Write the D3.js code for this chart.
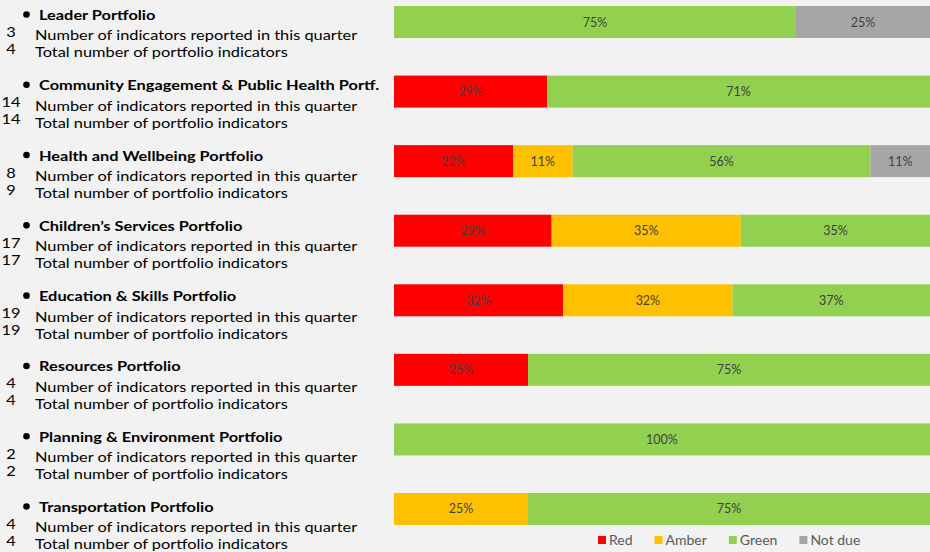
<!DOCTYPE html>
<meta charset="utf-8">
<script src="https://d3js.org/d3.v7.min.js"></script>
<style>
  body { margin: 0; background: #f2f2f2; }
  text { font-family: Lato, "Open Sans", sans-serif; }
</style>
<div id="chart"></div>
<script>

// portfolios and their indicator counts
var portfolios = ["Leader Portfolio", "Community Engagement & Public Health Portf.",
  "Health and Wellbeing Portfolio", "Children\u2019s Services Portfolio",
  "Education & Skills Portfolio", "Resources Portfolio",
  "Planning & Environment Portfolio", "Transportation Portfolio"];
var reported = [3, 14, 8, 17, 19, 4, 2, 4];
var totals   = [4, 14, 9, 17, 19, 4, 2, 4];

// RAG status counts per portfolio
var statuses = ["Red", "Amber", "Green", "Not due"];
var red    = [0, 4, 2, 5, 6, 1, 0, 0];
var amber  = [0, 0, 1, 6, 6, 0, 0, 1];
var green  = [3, 10, 5, 6, 7, 3, 2, 3];
var notDue = [1, 0, 1, 0, 0, 0, 0, 0];

var colors = ["#ff0000", "#ffc000", "#92d050", "#a6a6a6"];

var width = 930, height = 552;

var svg = d3.select("#chart").append("svg")
  .attr("width", width)
  .attr("height", height);

svg.append("rect").attr("width", width).attr("height", height).attr("fill", "#f2f2f2");

var rows = portfolios.map(function(p, i) {
  var vals = [red[i], amber[i], green[i], notDue[i]];
  var sum = d3.sum(vals);
  var x0 = 0;
  var segs = vals.map(function(v, k) {
    var s = {status: statuses[k], k: k, x0: x0 / sum, x1: (x0 + v) / sum, v: v / sum};
    x0 += v;
    return s;
  }).filter(function(s) { return s.v > 0; });
  return {name: p, i: i, segs: segs};
});

// left text block (text is a bit stretched horizontally in the original)
var sx = 1.17;
var textY = d3.scaleLinear().domain([0, 7]).range([20, 512]);

var left = svg.append("g").selectAll("g").data(rows).enter().append("g")
  .attr("transform", function(d) { return "translate(0," + textY(d.i) + ")"; });

left.append("circle").attr("cx", 26.5).attr("cy", -5.5).attr("r", 3.3).attr("fill", "#000");

var lt = left.append("g").attr("transform", "scale(" + sx + ",1)");
lt.append("text").attr("x", 39 / sx).attr("y", 0)
  .attr("font-size", 14).attr("font-weight", "bold").attr("fill", "#000")
  .text(function(d) { return d.name; });
lt.append("text").attr("x", 35 / sx).attr("y", 20.5)
  .attr("font-size", 14).attr("fill", "#000")
  .text("Number of indicators reported in this quarter");
lt.append("text").attr("x", 35 / sx).attr("y", 37.5)
  .attr("font-size", 14).attr("fill", "#000")
  .text("Total number of portfolio indicators");
lt.append("text").attr("x", 11 / sx).attr("y", 17).attr("text-anchor", "middle")
  .attr("font-size", 14).attr("fill", "#000")
  .text(function(d) { return reported[d.i]; });
lt.append("text").attr("x", 11 / sx).attr("y", 34).attr("text-anchor", "middle")
  .attr("font-size", 14).attr("fill", "#000")
  .text(function(d) { return totals[d.i]; });

// bars
var x = d3.scaleLinear().domain([0, 1]).range([394, 930]);
var y = d3.scaleBand().domain(d3.range(8)).range([6, 525]).paddingInner(0.54).paddingOuter(0);

var bars = svg.append("g").selectAll("g").data(rows).enter().append("g")
  .attr("transform", function(d) { return "translate(0," + y(d.i) + ")"; });

var bh = y.bandwidth();

bars.selectAll("rect").data(function(d) { return d.segs; }).enter().append("rect")
  .attr("x", function(s) { return x(s.x0); })
  .attr("width", function(s) { return x(s.x1) - x(s.x0); })
  .attr("y", 0)
  .attr("height", bh)
  .attr("fill", function(s) { return colors[s.k]; });

bars.selectAll("text").data(function(d) { return d.segs; }).enter().append("text")
  .attr("x", function(s) { return (x(s.x0) + x(s.x1)) / 2; })
  .attr("y", bh / 2 + 4.5)
  .attr("text-anchor", "middle")
  .attr("font-size", 12.5)
  .attr("fill", "#404040")
  .text(function(s) { return d3.format(".0%")(s.v); });

// legend
var legend = svg.append("g").attr("transform", "translate(598,540)");
var lx = 0;
statuses.forEach(function(s, k) {
  var g = legend.append("g").attr("transform", "translate(" + lx + ",0)");
  g.append("rect").attr("x", 0).attr("y", -4).attr("width", 8).attr("height", 8).attr("fill", colors[k]);
  var t = g.append("text").attr("x", 11).attr("y", 5)
    .attr("font-size", 14).attr("fill", "#595959").text(s);
  lx += 11 + t.node().getComputedTextLength() + 22;
});

</script>
